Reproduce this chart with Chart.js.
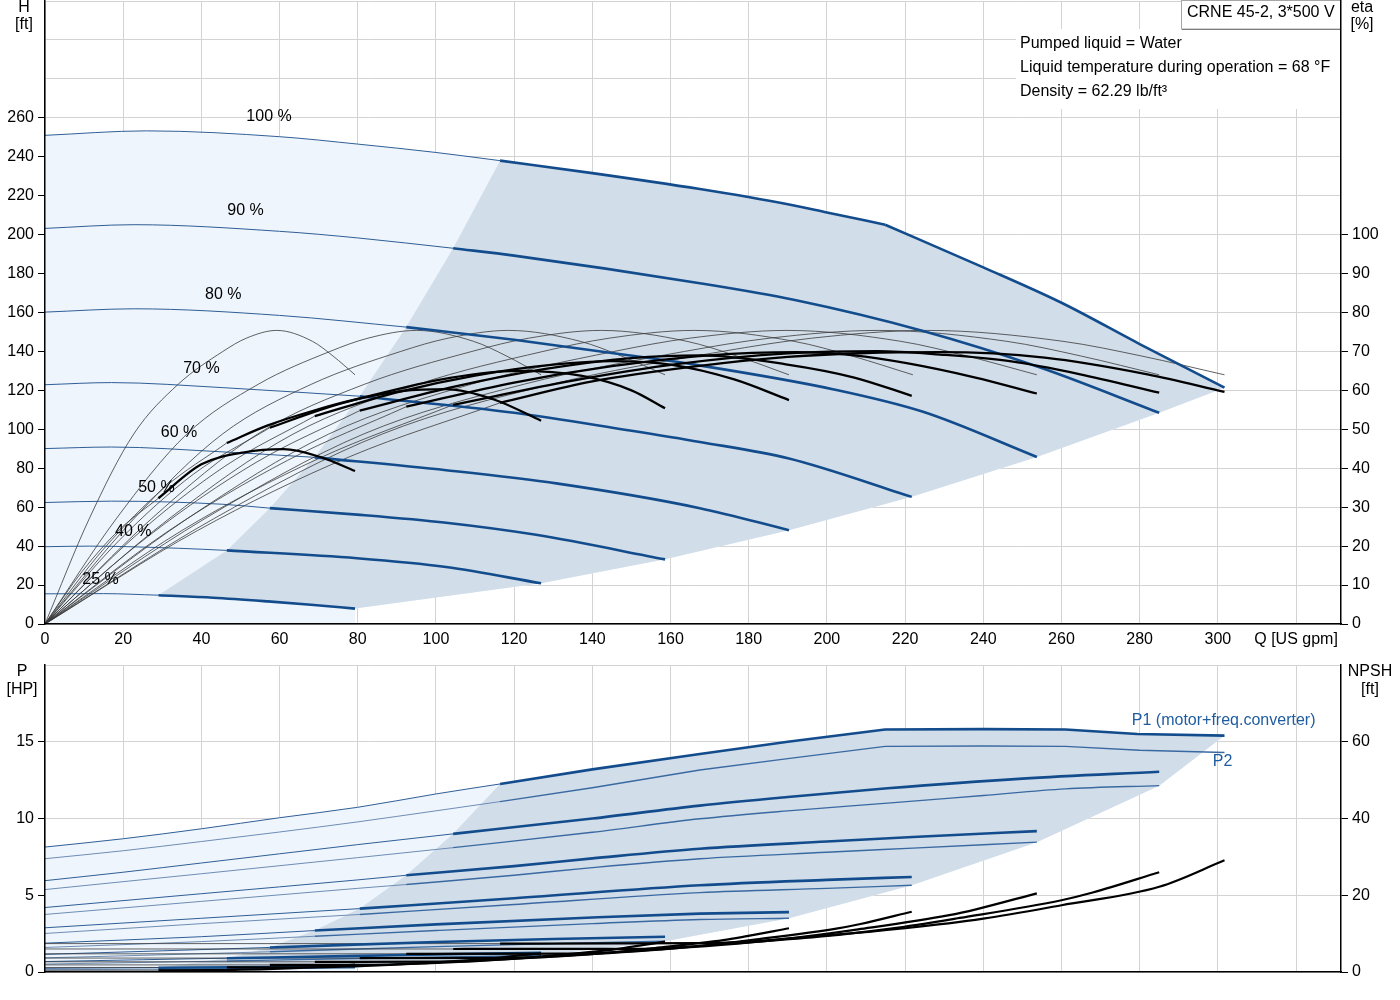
<!DOCTYPE html>
<html><head><meta charset="utf-8">
<script src="https://cdn.jsdelivr.net/npm/chart.js@4.4.1/dist/chart.umd.min.js"></script>
<style>
html,body{margin:0;padding:0;background:#fff;}
#wrap{position:relative;width:1400px;height:1000px;overflow:hidden;}
canvas{position:absolute;left:0;}
#c1{top:0;width:1400px;height:655px;}
#c2{top:655px;width:1400px;height:345px;}
</style></head><body>
<div id="wrap"><canvas id="c1" width="1400" height="655"></canvas><canvas id="c2" width="1400" height="345"></canvas></div>
<script>
// ---------------- DATA ----------------
const speedLabels = ['100 %','90 %','80 %','70 %','60 %','50 %','40 %','25 %'];
const qStart = [116.4,104.4,92.4,80.5,69,57.5,46.5,29];   // start of operating range per speed [US gpm]
const qPowerLimit = 214.9;                                // 100 % curve becomes power limited here

// Head H [ft] vs Q [US gpm]
const head100 = [[0,251],[26,253.3],[60,250.3],[80,246.5],[100,242.2],[116.4,238],[140,231.6],[167.5,223.4],[190,215.6],[200,211.4],[214.9,205.1],[240,183.2],[260,165],[280,143.8],[301.7,121.4]];
const head90  = [[0,203.2],[22.8,205.1],[60,201.7],[80,198.3],[104.4,193],[120,189.2],[167.5,175],[191.5,166.5],[224.6,150.5],[254.2,132],[285,108.5]];
const head80  = [[0,160.2],[22.8,161.9],[60,158.5],[92.4,152.5],[120,146],[148.3,138.3],[167.5,132.8],[201.8,120.5],[224.6,109],[253.7,85.8]];
const head70  = [[0,122.9],[17,124],[45.5,121.4],[80.5,117],[120,108.5],[148.3,99.8],[167.5,93.5],[190.3,85],[221.7,65.3]];
const head60  = [[0,90.1],[17,90.9],[45.5,88.4],[69,85.6],[102.6,79],[131.2,72.1],[167.5,59.5],[190.3,48.2]];
const head50  = [[0,62.4],[17,63.1],[45.5,61.5],[57.5,59.5],[79.8,56.2],[102.6,52],[125.6,45.8],[158.6,33.2]];
const head40  = [[0,39.7],[11.3,40],[34.2,38.9],[46.5,37.8],[79.8,33.8],[102.6,29.3],[126.9,20.9]];
const head25  = [[0,15.5],[15,15.6],[29,14.8],[43,13.5],[57,11.6],[68,9.9],[79.3,7.9]];

// Total efficiency eta [%]
const etaTot100 = [[0,0],[39,24],[78,43],[116.4,56.8],[140,62.3],[167.5,66.3],[190,68.6],[210,69.6],[229,69.8],[255.7,68.4],[282,64.1],[301.7,59.6]];
const etaTot90  = [[0,0],[35,24],[70,42.5],[104.4,56.3],[135,62.5],[162,66.8],[190,69.5],[213,70.1],[229,69.2],[246.8,67.5],[264.5,64.2],[285,59.4]];
const etaTot80  = [[0,0],[31,23.5],[62,42],[92.4,55.8],[120,62],[145,66.2],[170,69],[192,69.8],[207,69],[220.4,67],[238,63.3],[253.7,59.2]];
const etaTot70  = [[0,0],[27,23],[54,41.5],[80.5,54.8],[105,61],[128,65.5],[150,68.3],[168,69],[189.5,66.7],[207,63.3],[221.7,58.6]];
const etaTot60  = [[0,0],[23,22.5],[46,40.5],[69,53.4],[90,59.5],[110,63.8],[130,66.6],[145,67.5],[160,66.6],[176.3,62.8],[190.3,57.5]];
const etaTot50  = [[0,0],[19,21.5],[38,38.5],[57.5,50.4],[72,55.5],[86.5,59.4],[103.6,63.2],[120.6,65],[137.4,63.7],[150,60],[158.6,55.4]];
const etaTot40  = [[0,0],[15.2,19.5],[30.5,35],[46.5,46.5],[57,51],[68.4,54.7],[80,57.8],[91.3,59.8],[102.6,60.3],[115,57.6],[126.9,52.2]];
const etaTot25  = [[0,0],[9.5,13.5],[19,24.2],[29,32.3],[40,41],[51,44.1],[61,44.9],[70.7,42.8],[79.3,39.3]];

// Pump efficiency eta [%] (thin curves)
const etaPump100 = [[0,0],[43.1,27],[86.3,48.8],[129.7,61.6],[173.2,70],[196.1,73.4],[225.7,75.4],[260.4,72.6],[280.6,68.8],[301.7,64]];
const etaPump90  = [[0,0],[40.8,27],[81.5,48.8],[122.6,61.6],[163.6,70],[185.3,73.4],[213.2,75.4],[246,72.6],[265.1,68.8],[285,64]];
const etaPump80  = [[0,0],[36.3,27],[72.6,48.8],[109.1,61.6],[145.6,70],[164.9,73.4],[189.8,75.4],[218.9,72.6],[235.9,68.8],[253.7,64]];
const etaPump70  = [[0,0],[31.7,27],[63.5,48.8],[95.5,61.6],[127.4,70],[144.3,73.4],[166.1,75.4],[191.6,72.6],[206.5,68.8],[222,64]];
const etaPump60  = [[0,0],[27.2,27],[54.4,48.8],[81.8,61.6],[109.2,70],[123.7,73.4],[142.3,75.4],[164.2,72.6],[177,68.8],[190.3,64]];
const etaPump50  = [[0,0],[22.7,27],[45.4,48.8],[68.2,61.6],[91,70],[103.1,73.4],[118.6,75.4],[136.9,72.6],[147.5,68.8],[158.6,64]];
const etaPump40  = [[0,0],[18.2,27],[36.3,48.8],[54.6,61.6],[72.9,70],[82.6,73.4],[95,75.4],[109.6,72.6],[118.1,68.8],[126.9,64]];
const etaPump25  = [[0,0],[11.3,27],[22.7,48.8],[34.1,61.6],[45.5,70],[51.5,73.4],[59.3,75.4],[68.4,72.6],[73.7,68.8],[79.3,64]];

// Power P1 (motor+freq.converter) and P2 [HP]
const p1_100 = [[0,8.14],[20,8.68],[40,9.33],[60,10.05],[80,10.73],[100,11.6],[116.4,12.25],[140,13.2],[167.5,14.2],[190,15.0],[214.9,15.8],[240,15.82],[261,15.8],[279.4,15.5],[301.7,15.4]];
const p2_100 = [[0,7.38],[20,7.9],[40,8.5],[60,9.12],[80,9.78],[100,10.5],[116.4,11.1],[140,12.0],[167.5,13.16],[190,13.9],[214.9,14.7],[240,14.72],[261,14.7],[280,14.45],[301.7,14.3]];
const p1_90 = [[0,5.95],[20,6.5],[40,7.1],[60,7.7],[80,8.3],[104.4,9.0],[140,10.0],[167.5,10.84],[190,11.4],[215.5,11.97],[250,12.6],[285,13.05]];
const p2_90 = [[0,5.37],[40,6.4],[80,7.45],[104.4,8.1],[140,9.1],[167.5,9.98],[190,10.5],[215.5,11.0],[240,11.5],[261,11.93],[285,12.14]];
const p1_80 = [[0,4.2],[40,5.1],[80,6.0],[92.4,6.3],[120,6.9],[140,7.4],[167.5,8.03],[200,8.5],[222,8.79],[253.7,9.18]];
const p2_80 = [[0,3.75],[40,4.6],[80,5.45],[92.4,5.7],[120,6.3],[140,6.8],[167.5,7.38],[200,7.8],[222,8.07],[253.7,8.46]];
const p1_70 = [[0,2.88],[40,3.5],[80.5,4.13],[120,4.8],[167.5,5.65],[200,6.0],[221.7,6.19]];
const p2_70 = [[0,2.51],[40,3.15],[80.5,3.75],[120,4.4],[167.5,5.17],[200,5.45],[221.7,5.65]];
const p1_60 = [[0,1.88],[40,2.3],[69,2.7],[100,3.1],[140,3.55],[167.5,3.8],[190.3,3.9]];
const p2_60 = [[0,1.6],[40,1.98],[69,2.33],[100,2.7],[140,3.15],[167.5,3.42],[190.3,3.5]];
const p1_50 = [[0,1.15],[30,1.38],[57.5,1.6],[100,1.95],[130,2.15],[158.6,2.3]];
const p2_50 = [[0,0.92],[30,1.12],[57.5,1.32],[100,1.65],[130,1.85],[158.6,2.0]];
const p1_40 = [[0,0.68],[25,0.8],[46.5,0.9],[80,1.05],[100,1.15],[126.9,1.25]];
const p2_40 = [[0,0.52],[25,0.62],[46.5,0.72],[80,0.88],[100,0.97],[126.9,1.08]];
const p1_25 = [[0,0.24],[29,0.28],[60,0.33],[79.3,0.36]];
const p2_25 = [[0,0.15],[29,0.18],[60,0.23],[79.3,0.27]];

// NPSH [ft]
const npsh100 = [[0,7.4],[60,7.4],[116.4,7.4],[168,7.5],[200.6,9.6],[220,11.4],[240,13.9],[260,17.4],[285,22.2],[301.7,29.1]];
const npsh90  = [[0,6.0],[60,6.0],[104.4,6.0],[151,6.05],[180.6,7.8],[198,9.2],[216.3,11.3],[234,14.1],[260,18.7],[268,20.7],[285,26.0]];
const npsh80  = [[0,4.74],[50,4.74],[92.4,4.74],[134.4,4.78],[160.5,6.14],[176.3,7.3],[192.2,8.96],[208,11.1],[231.3,14.8],[238.4,16.4],[253.7,20.5]];
const npsh70  = [[0,3.63],[40,3.63],[80.5,3.63],[117.6,3.66],[140.5,4.7],[154.2,5.6],[168.2,6.86],[182,8.5],[202.4,11.3],[208.6,12.5],[221.7,15.7]];
const npsh60  = [[0,2.66],[35,2.66],[69,2.66],[100.8,2.69],[120.4,3.46],[132.2,4.1],[144.2,5.04],[156,6.26],[173.5,8.3],[178.8,9.2],[190.3,11.4]];
const npsh50  = [[0,1.85],[30,1.85],[57.5,1.85],[84,1.87],[100.3,2.4],[110.2,2.85],[120.1,3.5],[130,4.35],[144.6,5.78],[149,6.4],[158.6,7.9]];
const npsh40  = [[0,1.18],[25,1.18],[46.5,1.18],[67.2,1.2],[80.3,1.54],[88.1,1.82],[96.1,2.24],[104,2.78],[115.6,3.7],[119.2,4.1],[126.9,4.8]];
const npsh25  = [[0,0.46],[15,0.46],[29,0.46],[42,0.47],[50.2,0.6],[55.1,0.71],[60,0.875],[65,1.09],[72.3,1.44],[74.5,1.6],[79.3,1.9]];

// label anchors (Q, H) for speed labels
const speedLabelPos = [[57.3,260.5],[51.3,212.3],[45.6,169.2],[40,131.3],[34.3,98.5],[28.5,70.3],[22.6,47.7],[14.2,22.6]];
const p1LabelPos = [278,16.36];
const p2LabelPos = [298.7,13.73];

const infoTitle = 'CRNE 45-2, 3*500 V';
const infoLines = ['Pumped liquid = Water','Liquid temperature during operation = 68 °F','Density = 62.29 lb/ft³'];

// ---------------- STYLE ----------------
const FONT = '"Liberation Sans", Arial, Helvetica, sans-serif';
Chart.defaults.font.family = FONT;
Chart.defaults.font.size = 16;
Chart.defaults.color = '#000';
const C = {qhThick:'#134c8c', qhThin:'#2f5e96', etaThick:'#000', etaThin:'#3a3a3a',
  dark:'#d1dde9', light:'#eef5fc', p2Thick:'#3a69a2', p2Thin:'#6e8db4', label:'#1f5c9f', grid:'#d3d3d3'};

const heads = [head100,head90,head80,head70,head60,head50,head40,head25];
const etaTots = [etaTot100,etaTot90,etaTot80,etaTot70,etaTot60,etaTot50,etaTot40,etaTot25];
const etaPumps = [etaPump100,etaPump90,etaPump80,etaPump70,etaPump60,etaPump50,etaPump40,etaPump25];
const p1s = [p1_100,p1_90,p1_80,p1_70,p1_60,p1_50,p1_40,p1_25];
const p2s = [p2_100,p2_90,p2_80,p2_70,p2_60,p2_50,p2_40,p2_25];
const npshs = [npsh100,npsh90,npsh80,npsh70,npsh60,npsh50,npsh40,npsh25];

const startPt = (a,q) => a.find(p => p[0] === q);
const endPt = a => a[a.length-1];
const thin = (a,q) => a.filter(p => p[0] <= q);
const thick = (a,q) => a.filter(p => p[0] >= q);
const between = (a,q0,q1) => a.filter(p => p[0] >= q0 && p[0] <= q1);
const up = [7,6,5,4,3,2,1,0];
const STRAIGHT = {cubicInterpolationMode:'default', tension:0};

function mk(points, axis, color, width, order, extra) {
  return Object.assign({
    data: points.map(p => ({x:p[0], y:p[1]})),
    yAxisID: axis, borderColor: color, borderWidth: width,
    pointRadius: 0, pointHoverRadius: 0, fill: false,
    cubicInterpolationMode: 'monotone', order: order,
    borderCapStyle: 'butt', borderJoinStyle: 'round'
  }, extra || {});
}
function area(upper, lower, axis, color, order) {
  return [
    mk(upper, axis, 'rgba(0,0,0,0)', 0, order, Object.assign({fill:'+1', backgroundColor:color}, STRAIGHT)),
    mk(lower, axis, 'rgba(0,0,0,0)', 0, order, STRAIGHT)
  ];
}

function textPlugin(items, drawInfo) {
  return { id: 'texts', afterDatasetsDraw(chart) {
    const ctx = chart.ctx; ctx.save();
    if (drawInfo) drawInfo(ctx, chart);
    ctx.font = '16px ' + FONT; ctx.textBaseline = 'middle';
    items.forEach(it => {
      let x, y;
      if (it.data) { x = chart.scales.x.getPixelForValue(it.data[0]); y = chart.scales[it.axis || 'y'].getPixelForValue(it.data[1]); }
      else { x = it.px[0]; y = it.px[1]; }
      ctx.fillStyle = it.color || '#000'; ctx.textAlign = it.align || 'center';
      ctx.fillText(it.t, x, y);
    });
    ctx.restore();
  }};
}

const noPad = w => s => { if (w !== undefined) s.width = w; s.paddingTop = 0; s.paddingBottom = 0; s.paddingLeft = 0; s.paddingRight = 0; };
const noPadH = h => s => { s.height = h; s.paddingTop = 0; s.paddingBottom = 0; s.paddingLeft = 0; s.paddingRight = 0; };

// ---------------- TOP CHART ----------------
const topDarkUpper = up.map(i => startPt(heads[i], qStart[i])).concat(head100.filter(p => p[0] > qStart[0]));
const topDarkLower = thick(head25, qStart[7]).concat(up.slice(1).map(i => endPt(heads[i])));
const topLightLower = [[0,0],[endPt(head25)[0],0]].concat(up.map(i => endPt(heads[i])));

const ds1 = [].concat(
  area(topDarkUpper, topDarkLower, 'y', C.dark, 99),
  area(head100, topLightLower, 'y', C.light, 100)
);
for (let i = 0; i < 8; i++) {
  ds1.push(mk(thin(heads[i], qStart[i]), 'y', C.qhThin, 1, 3));
  if (i === 0) {
    ds1.push(mk(between(heads[i], qStart[i], qPowerLimit), 'y', C.qhThick, 2.6, 1));
    ds1.push(mk(thick(heads[i], qPowerLimit), 'y', C.qhThick, 2.6, 1));
  } else {
    ds1.push(mk(thick(heads[i], qStart[i]), 'y', C.qhThick, 2.6, 1));
  }
  ds1.push(mk(etaPumps[i], 'y2', C.etaThin, 0.8, 2));
  ds1.push(mk(thin(etaTots[i], qStart[i]), 'y2', C.etaThin, 0.8, 2));
  ds1.push(mk(thick(etaTots[i], qStart[i]), 'y2', C.etaThick, 2.3, 0));
}

const items1 = [
  {t:'H', px:[24,8]}, {t:'[ft]', px:[24,25]},
  {t:'eta', px:[1362,8]}, {t:'[%]', px:[1362,25]}
].concat(speedLabels.map((s,i) => ({t:s, data:speedLabelPos[i]})));

function drawInfo(ctx, chart) {
  const r = chart.chartArea.right;
  ctx.fillStyle = '#fff';
  ctx.fillRect(1016, 29, r - 1016, 80);
  ctx.fillRect(1181, 0, r - 1181, 29);
  ctx.strokeStyle = '#a6a6a6'; ctx.lineWidth = 1;
  ctx.strokeRect(1181.5, 0.5, r - 1182, 28.5);
  ctx.strokeStyle = '#7d7d7d';
  ctx.beginPath(); ctx.moveTo(1182, 29.5); ctx.lineTo(r, 29.5); ctx.stroke();
  ctx.font = '16px ' + FONT; ctx.fillStyle = '#000'; ctx.textBaseline = 'middle'; ctx.textAlign = 'left';
  ctx.fillText(infoTitle, 1187, 13);
  infoLines.forEach((t, k) => ctx.fillText(t, 1020, 44 + 24 * k));
}

const tickCol = (lim) => (c) => (c.tick && c.tick.value <= lim) ? '#000' : 'rgba(0,0,0,0)';

new Chart(document.getElementById('c1'), {
  type: 'line',
  data: { datasets: ds1 },
  options: {
    responsive: false, animation: false, devicePixelRatio: 1, events: [],
    layout: { padding: { top: 1, left: 0, right: 0, bottom: 0 } },
    plugins: { legend: { display: false }, tooltip: { enabled: false } },
    scales: {
      x: { type: 'linear', min: 0, max: 331.5, afterFit: noPadH(31),
        ticks: { stepSize: 20, includeBounds: false, autoSkip: false, maxRotation: 0, padding: 6,
          callback: v => v <= 300 ? String(v) : (v === 320 ? 'Q [US gpm]' : '') },
        grid: { color: C.grid, lineWidth: 1, drawTicks: false },
        border: { color: '#000', width: 1.5, z: 1 } },
      y: { position: 'left', min: 0, max: 320, afterFit: noPad(45),
        ticks: { stepSize: 20, includeBounds: false, padding: 4, callback: v => v <= 260 ? String(v) : '' },
        grid: { color: C.grid, lineWidth: 1, tickLength: 7, tickColor: tickCol(260), tickWidth: 1 },
        border: { color: '#000', width: 1.5, z: 1 } },
      y2: { position: 'right', min: 0, max: 160, afterFit: noPad(59),
        ticks: { stepSize: 10, includeBounds: false, padding: 4, callback: v => v <= 100 ? String(v) : '' },
        grid: { drawOnChartArea: false, tickLength: 7, tickColor: tickCol(100), tickWidth: 1 },
        border: { color: '#000', width: 1.5, z: 1 } }
    }
  },
  plugins: [textPlugin(items1, drawInfo)]
});

// ---------------- BOTTOM CHART ----------------
const botDarkUpper = up.map(i => startPt(p1s[i], qStart[i])).concat(p1_100.filter(p => p[0] > qStart[0]));
const botDarkLower = thick(p2_25, qStart[7]).concat([6,5,4,3,2,1].map(i => endPt(p2s[i]))).concat([endPt(p1_100)]);
const botLightLower = [[0,0],[endPt(p2_25)[0],0]].concat([7,6,5,4,3,2,1].map(i => endPt(p2s[i]))).concat([endPt(p1_100)]);

const ds2 = [].concat(
  area(botDarkUpper, botDarkLower, 'y', C.dark, 99),
  area(p1_100, botLightLower, 'y', C.light, 100)
);
for (let i = 0; i < 8; i++) {
  const ex = i === 0 ? STRAIGHT : {};
  ds2.push(mk(thin(p1s[i], qStart[i]), 'y', C.qhThin, 1, 3));
  ds2.push(mk(thick(p1s[i], qStart[i]), 'y', C.qhThick, 2.6, 1, ex));
  ds2.push(mk(thin(p2s[i], qStart[i]), 'y', C.p2Thin, 1, 3));
  ds2.push(mk(thick(p2s[i], qStart[i]), 'y', C.p2Thick, 1.4, 2, ex));
  ds2.push(mk(thin(npshs[i], qStart[i]), 'y2', C.etaThin, 0.8, 2));
  ds2.push(mk(thick(npshs[i], qStart[i]), 'y2', C.etaThick, 2.2, 0));
}

const items2 = [
  {t:'P', px:[22,17]}, {t:'[HP]', px:[22,35]},
  {t:'NPSH', px:[1370,17]}, {t:'[ft]', px:[1370,35]},
  {t:'P1 (motor+freq.converter)', data:p1LabelPos, align:'left', color:C.label},
  {t:'P2', data:p2LabelPos, align:'left', color:C.label}
];

new Chart(document.getElementById('c2'), {
  type: 'line',
  data: { datasets: ds2 },
  options: {
    responsive: false, animation: false, devicePixelRatio: 1, events: [],
    layout: { padding: { top: 10, left: 0, right: 0, bottom: 0 } },
    plugins: { legend: { display: false }, tooltip: { enabled: false } },
    scales: {
      x: { type: 'linear', min: 0, max: 331.5, afterFit: noPadH(28),
        ticks: { display: false, stepSize: 20, includeBounds: false },
        grid: { color: C.grid, lineWidth: 1, drawTicks: false },
        border: { color: '#000', width: 1.5, z: 1 } },
      y: { position: 'left', min: 0, max: 20, afterFit: noPad(45),
        ticks: { stepSize: 5, includeBounds: false, padding: 4, callback: v => v <= 15 ? String(v) : '' },
        grid: { color: C.grid, lineWidth: 1, tickLength: 7, tickColor: tickCol(15), tickWidth: 1 },
        border: { color: '#000', width: 1.5, z: 1 } },
      y2: { position: 'right', min: 0, max: 80, afterFit: noPad(59),
        ticks: { stepSize: 20, includeBounds: false, padding: 4, callback: v => v <= 60 ? String(v) : '' },
        grid: { drawOnChartArea: false, tickLength: 7, tickColor: tickCol(60), tickWidth: 1 },
        border: { color: '#000', width: 1.5, z: 1 } }
    }
  },
  plugins: [textPlugin(items2, null)]
});
</script></body></html>
